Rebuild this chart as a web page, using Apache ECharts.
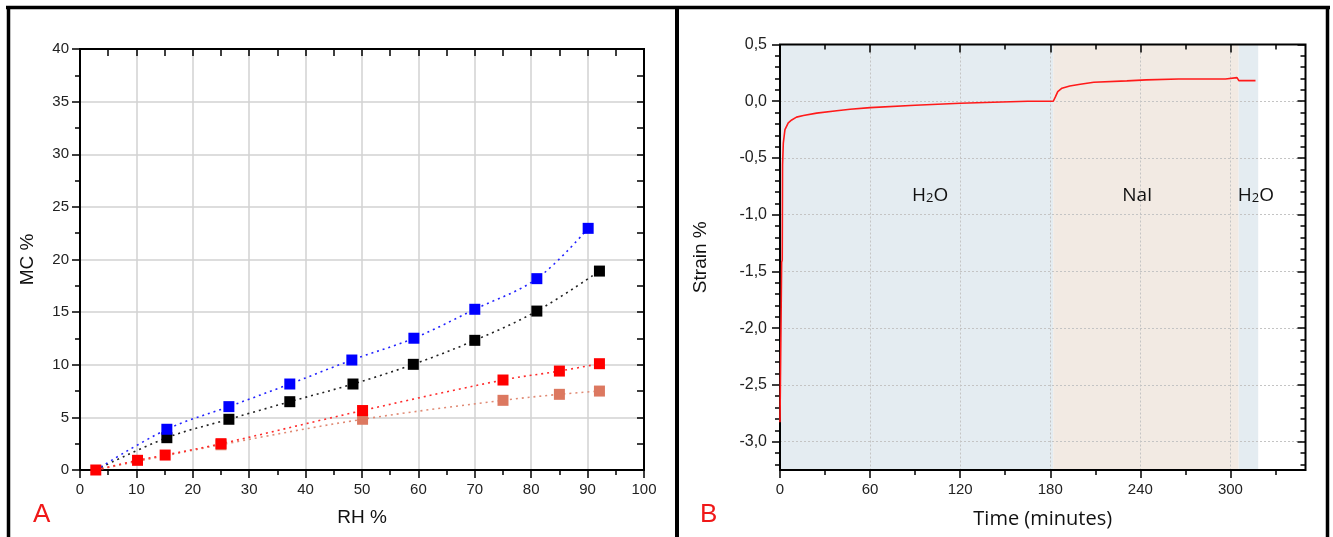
<!DOCTYPE html>
<html><head><meta charset="utf-8">
<script src="https://cdn.jsdelivr.net/npm/echarts@6/dist/echarts.min.js"></script>
<style>html,body{margin:0;padding:0;background:#fff}#c{width:1333px;height:537px}</style>
</head><body><div id="c"></div>
<script>
// ---------- Panel A data (RH % vs MC %) ----------
const curveStart = [2.8, 0];
const rhBlue = [15.4, 26.4, 37.2, 48.2, 59.2, 70.0, 81.0, 90.1];
const mcBlue = [3.87, 6.02, 8.17, 10.45, 12.52, 15.27, 18.18, 22.96];
const rhBlack = [15.4, 26.4, 37.2, 48.4, 59.1, 70.0, 81.0, 92.1];
const mcBlack = [3.07, 4.82, 6.49, 8.17, 10.04, 12.32, 15.1, 18.9];
const rhRed = [2.8, 10.2, 15.1, 25.0, 50.1, 75.0, 85.0, 92.1];
const mcRed = [0, 0.92, 1.42, 2.5, 5.65, 8.55, 9.4, 10.1];
const rhSalmon = [25.0, 50.1, 75.0, 85.0, 92.1];
const mcSalmon = [2.4, 4.82, 6.62, 7.19, 7.5];

// ---------- Panel B data (strain vs time) ----------
const timeMin = [0, 1.0, 1.1, 1.5, 1.7, 2.2, 3.3, 5.5, 7.8, 11, 15.6, 24.4, 37.8, 46.7, 60, 90, 120, 142, 165, 182, 183.5, 185, 187.8, 193, 200, 209, 231, 244, 265.5, 296.7, 297.8, 304.4, 305.6, 316.7];
const strainPct = [-2.83, -2.83, -1.42, -1.40, -0.56, -0.37, -0.25, -0.19, -0.165, -0.14, -0.126, -0.105, -0.084, -0.07, -0.056, -0.035, -0.018, -0.009, 0.0, 0.0, 0.04, 0.085, 0.115, 0.135, 0.15, 0.167, 0.179, 0.188, 0.196, 0.196, 0.208, 0.208, 0.182, 0.182];
const regionNames = ['H2O', 'NaI', 'H2O'];
const regionStart = [0, 182, 305.5];
const regionEnd = [182, 305.5, 318.5];
const regionLabelTime = [100, 238, 317];
const regionLabelStrain = [-0.83, -0.83, -0.83];
const timeMajorTicks = [0, 60, 120, 180, 240, 300];
const timeMinorTicks = [30, 90, 150, 210, 270, 330];
const strainMajorTicks = [-3.0, -2.5, -2.0, -1.5, -1.0, -0.5, 0.0, 0.5];
const strainMinorTicks = [];
for (let i = -32; i <= 4; i++) { if (i % 5 !== 0) strainMinorTicks.push(i / 10); }

const SANS = "'Liberation Sans', Arial, sans-serif";
const OPEN = "'Open Sans', 'Noto Sans', sans-serif";
const regionColors = ['#e4ecf1', '#f2eae3', '#e4ecf1'];

const zip = (xs, ys) => xs.map((x, i) => [x, ys[i]]);
const tickStyle = { color: '#000', width: 1.5 };

// main axis: labels, split lines, name; no line, no ticks
function mainAxis(extra) {
  return Object.assign({
    type: 'value',
    axisLine: { show: false, onZero: false },
    axisTick: { show: false },
    z: 1.5
  }, extra);
}
// tick-only axis
function tickAxis(gridIndex, position, min, max, extra, tick) {
  return Object.assign({
    type: 'value', gridIndex: gridIndex, position: position, min: min, max: max, z: 3,
    axisLine: { show: false, onZero: false },
    axisLabel: { show: false },
    splitLine: { show: false },
    axisTick: Object.assign({ show: true, lineStyle: tickStyle }, tick)
  }, extra);
}

const chart = echarts.init(document.getElementById('c'));

const gridBase = { show: true, borderColor: '#000', borderWidth: 2, backgroundColor: 'transparent', z: 2, outerBoundsMode: 'none' };
const gridA = Object.assign({ left: 80, right: 689, top: 49, bottom: 67 }, gridBase);
const gridB = Object.assign({ left: 780, right: 27.5, top: 44.5, bottom: 67 }, gridBase);

const dotted = (color) => ({ color: color, width: 1.6, type: [2, 4] });

function labelRich(name) {
  return name.split(/(\d)/).filter(Boolean)
    .map((t) => (/^\d$/.test(t) ? '{s|' + t + '}' : '{n|' + t + '}')).join('');
}

const option = {
  animation: false,
  backgroundColor: '#fff',
  grid: [gridA, gridB],
  xAxis: [
    // 0: panel A main
    mainAxis({ gridIndex: 0, position: 'bottom', min: 0, max: 100, interval: 10,
      axisLabel: { show: true, fontSize: 15, fontFamily: SANS, color: '#222', margin: 12 },
      splitLine: { show: true, lineStyle: { color: '#d2d2d2', width: 1.5 } },
      name: 'RH %', nameLocation: 'middle', nameGap: 38,
      nameTextStyle: { fontSize: 19, fontFamily: SANS, color: '#111' } }),
    tickAxis(0, 'bottom', 0, 100, { interval: 5 }, { length: 5 }),
    tickAxis(0, 'bottom', 0, 100, { interval: 10 }, { length: 8 }),
    tickAxis(0, 'top', 0, 100, { interval: 5 }, { length: 7, inside: true }),
    tickAxis(0, 'top', 0, 100, { interval: 10 }, { length: 7, inside: true }),
    // 5: panel B main
    mainAxis({ gridIndex: 1, position: 'bottom', min: 0, max: 350, interval: 60,
      axisLabel: { show: true, fontSize: 15, fontFamily: SANS, color: '#222', margin: 12, showMaxLabel: false },
      splitLine: { show: true, lineStyle: { color: '#c4c4c4', width: 1, type: [2, 2] } },
      name: 'Time (minutes)', nameLocation: 'middle', nameGap: 39,
      nameTextStyle: { fontSize: 20, fontFamily: OPEN, color: '#111' } }),
    tickAxis(1, 'bottom', 0, 350, { interval: 30 }, { length: 5, customValues: timeMinorTicks }),
    tickAxis(1, 'bottom', 0, 350, { interval: 30 }, { length: 8, customValues: timeMajorTicks }),
    tickAxis(1, 'top', 0, 350, { interval: 30 }, { length: 5, inside: true, customValues: timeMinorTicks }),
    tickAxis(1, 'top', 0, 350, { interval: 30 }, { length: 8, inside: true, customValues: timeMajorTicks })
  ],
  yAxis: [
    // 0: panel A main
    mainAxis({ gridIndex: 0, position: 'left', min: 0, max: 40, interval: 5,
      axisLabel: { show: true, fontSize: 15, fontFamily: SANS, color: '#222', margin: 11 },
      splitLine: { show: true, lineStyle: { color: '#d2d2d2', width: 1.5 } },
      name: 'MC %', nameLocation: 'middle', nameGap: 43, nameRotate: 90,
      nameTextStyle: { fontSize: 19, fontFamily: SANS, color: '#111' } }),
    tickAxis(0, 'left', 0, 40, { interval: 2.5 }, { length: 5 }),
    tickAxis(0, 'left', 0, 40, { interval: 5 }, { length: 8 }),
    tickAxis(0, 'right', 0, 40, { interval: 2.5 }, { length: 7, inside: true }),
    tickAxis(0, 'right', 0, 40, { interval: 5 }, { length: 7, inside: true }),
    // 5: panel B main
    mainAxis({ gridIndex: 1, position: 'left', min: -3.25, max: 0.5, splitNumber: 7,
      axisLabel: { show: true, fontSize: 16, fontFamily: SANS, color: '#222', margin: 13, showMinLabel: false,
        formatter: (v) => v.toFixed(1).replace('.', ',') },
      splitLine: { show: true, lineStyle: { color: '#c4c4c4', width: 1, type: [2, 2] } },
      name: 'Strain %', nameLocation: 'middle', nameGap: 70, nameRotate: 90,
      nameTextStyle: { fontSize: 19, fontFamily: SANS, color: '#111' } }),
    tickAxis(1, 'left', -3.25, 0.5, { splitNumber: 7 }, { length: 5, customValues: strainMinorTicks }),
    tickAxis(1, 'left', -3.25, 0.5, { splitNumber: 7 }, { length: 8, customValues: strainMajorTicks }),
    tickAxis(1, 'right', -3.25, 0.5, { splitNumber: 7 }, { length: 5, inside: true, customValues: strainMinorTicks }),
    tickAxis(1, 'right', -3.25, 0.5, { splitNumber: 7 }, { length: 8, inside: true, customValues: strainMajorTicks })
  ],
  series: [
    // Panel A fitted dotted curves
    { type: 'line', xAxisIndex: 0, yAxisIndex: 0, smooth: 0.35, showSymbol: false, silent: true, z: 3,
      data: [curveStart].concat(zip(rhSalmon, mcSalmon)), lineStyle: dotted('#e08a74') },
    { type: 'line', xAxisIndex: 0, yAxisIndex: 0, smooth: 0.35, showSymbol: false, silent: true, z: 3,
      data: zip(rhRed, mcRed), lineStyle: dotted('#ff2a2a') },
    { type: 'line', xAxisIndex: 0, yAxisIndex: 0, smooth: 0.35, showSymbol: false, silent: true, z: 3,
      data: [curveStart].concat(zip(rhBlack, mcBlack)), lineStyle: dotted('#222') },
    { type: 'line', xAxisIndex: 0, yAxisIndex: 0, smooth: 0.35, showSymbol: false, silent: true, z: 3,
      data: [curveStart].concat(zip(rhBlue, mcBlue)), lineStyle: dotted('#2222ff') },
    // Panel A markers
    { type: 'scatter', xAxisIndex: 0, yAxisIndex: 0, symbol: 'rect', symbolSize: 11, z: 4,
      itemStyle: { color: '#dc7860', opacity: 1 }, data: zip(rhSalmon, mcSalmon) },
    { type: 'scatter', xAxisIndex: 0, yAxisIndex: 0, symbol: 'rect', symbolSize: 11, z: 4,
      itemStyle: { color: '#ff0000', opacity: 1 }, data: zip(rhRed, mcRed) },
    { type: 'scatter', xAxisIndex: 0, yAxisIndex: 0, symbol: 'rect', symbolSize: 11, z: 4,
      itemStyle: { color: '#000000', opacity: 1 }, data: zip(rhBlack, mcBlack) },
    { type: 'scatter', xAxisIndex: 0, yAxisIndex: 0, symbol: 'rect', symbolSize: 11, z: 4,
      itemStyle: { color: '#0000ff', opacity: 1 }, data: zip(rhBlue, mcBlue) },
    // Panel B strain curve with solution regions
    { type: 'line', xAxisIndex: 5, yAxisIndex: 5, showSymbol: false, silent: true, z: 4,
      data: zip(timeMin, strainPct), lineStyle: { color: '#ff1a1a', width: 1.6 },
      markArea: { silent: true, z: 1,
        data: regionStart.map((s, i) => [
          { xAxis: s, itemStyle: { color: regionColors[i] } },
          { xAxis: regionEnd[i] }
        ]) } },
    { type: 'scatter', xAxisIndex: 5, yAxisIndex: 5, symbolSize: 0, silent: true, z: 5,
      itemStyle: { opacity: 1 },
      data: regionNames.map((n, i) => [regionLabelTime[i], regionLabelStrain[i], n]),
      label: { show: true, position: 'inside',
        formatter: (p) => labelRich(p.data[2]),
        rich: {
          n: { fontSize: 19, fontFamily: OPEN, color: '#111', verticalAlign: 'bottom' },
          s: { fontSize: 13, fontFamily: OPEN, color: '#111', verticalAlign: 'bottom' }
        } } }
  ],
  graphic: [
    { type: 'line', z: 100, shape: { x1: 6, y1: 7.5, x2: 1330, y2: 7.5 }, style: { stroke: '#000', lineWidth: 3.5 } },
    { type: 'line', z: 100, shape: { x1: 8.5, y1: 6, x2: 8.5, y2: 540 }, style: { stroke: '#000', lineWidth: 3.5 } },
    { type: 'line', z: 100, shape: { x1: 677, y1: 6, x2: 677, y2: 540 }, style: { stroke: '#000', lineWidth: 4 } },
    { type: 'line', z: 100, shape: { x1: 1327.5, y1: 6, x2: 1327.5, y2: 540 }, style: { stroke: '#000', lineWidth: 3.5 } },
    { type: 'text', left: 33, top: 502, style: { text: 'A', fill: '#f01818', font: "26px 'Liberation Sans Narrow', 'Liberation Sans', sans-serif" } },
    { type: 'text', left: 700, top: 502, style: { text: 'B', fill: '#f01818', font: "26px 'Liberation Sans Narrow', 'Liberation Sans', sans-serif" } }
  ]
};
chart.setOption(option);
</script>
</body></html>
